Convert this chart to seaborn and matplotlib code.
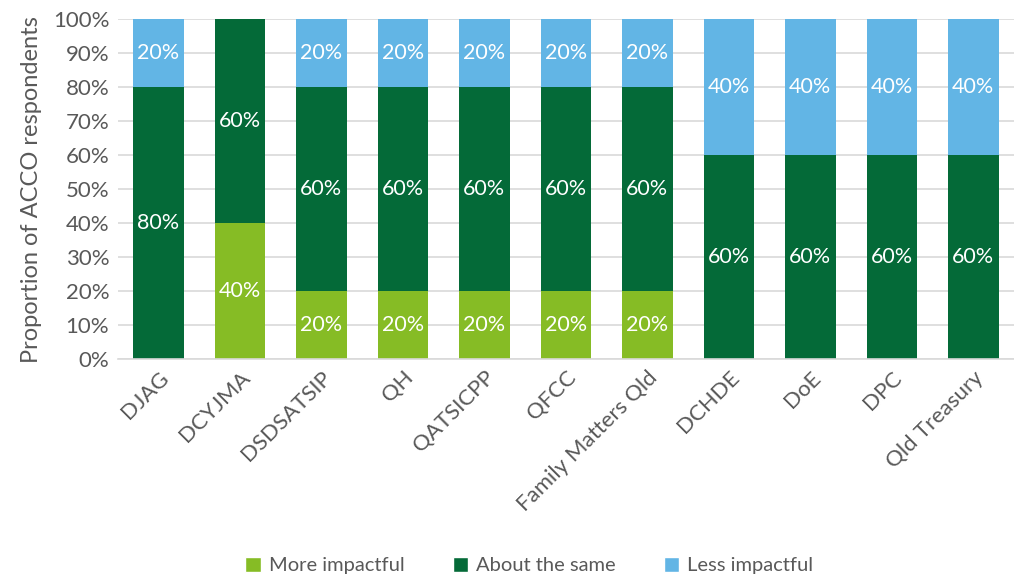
import numpy as np
import pandas as pd
import matplotlib
matplotlib.use("Agg")
import matplotlib.pyplot as plt
import seaborn as sns
from matplotlib.patches import Patch

sns.set_style("white")
plt.rcParams['font.family'] = ['Lato', 'DejaVu Sans']

agencies = ['DJAG', 'DCYJMA', 'DSDSATSIP', 'QH', 'QATSICPP', 'QFCC',
            'Family Matters Qld', 'DCHDE', 'DoE', 'DPC', 'Qld Treasury']
more_impactful = [0, 40, 20, 20, 20, 20, 20, 0, 0, 0, 0]
about_same = [80, 60, 60, 60, 60, 60, 60, 60, 60, 60, 60]
less_impactful = [20, 0, 20, 20, 20, 20, 20, 40, 40, 40, 40]

series = ['More impactful', 'About the same', 'Less impactful']
colors = ['#86BC25', '#046A38', '#62B5E5']

df = pd.DataFrame({'agency': agencies, 'More impactful': more_impactful,
                   'About the same': about_same, 'Less impactful': less_impactful})
cum = df[series].cumsum(axis=1)

fig = plt.figure(figsize=(10.14, 5.8), dpi=100)
ax = fig.add_axes([0.116, 0.381, 0.884, 0.586])

# draw from the top segment down so lower segments overlay
for s, c in zip(series[::-1], colors[::-1]):
    sns.barplot(x=df['agency'], y=cum[s], color=c, width=0.62, ax=ax,
                saturation=1, order=agencies, edgecolor='none')

# segment labels
for i in range(len(agencies)):
    base = 0
    for s in series:
        v = df[s].iloc[i]
        if v > 0:
            ax.text(i, base + v / 2, f"{v}%", ha='center', va='center',
                    color='white', fontsize=15.5)
        base += v

ax.set_ylim(0, 100)
ax.set_xlim(-0.5, len(agencies) - 0.5)
ax.set_yticks(np.arange(0, 101, 10))
ax.set_yticklabels([f"{t}%" for t in range(0, 101, 10)])
ax.yaxis.grid(True, color='#d9d9d9', linewidth=1.2)
ax.set_axisbelow(True)
for sp in ['top', 'right', 'left']:
    ax.spines[sp].set_visible(False)
ax.spines['bottom'].set_color('#d9d9d9')
ax.spines['bottom'].set_linewidth(1.2)
ax.tick_params(axis='both', length=0, labelsize=16, colors='#595959', pad=6)
ax.set_xlabel('')
ax.set_ylabel('Proportion of ACCO respondents', fontsize=17, color='#595959',
              labelpad=8)
plt.setp(ax.get_xticklabels(), rotation=45, ha='right', rotation_mode='anchor')

handles = [Patch(facecolor=c, label=s) for s, c in zip(series, colors)]
fig.legend(handles=handles, loc='center', bbox_to_anchor=(0.522, 0.025), ncol=3,
           frameon=False, fontsize=14.5, handlelength=0.75, handleheight=0.75,
           handletextpad=0.4, columnspacing=2.4, labelcolor='#595959')

fig.savefig('out.png', dpi=100)
